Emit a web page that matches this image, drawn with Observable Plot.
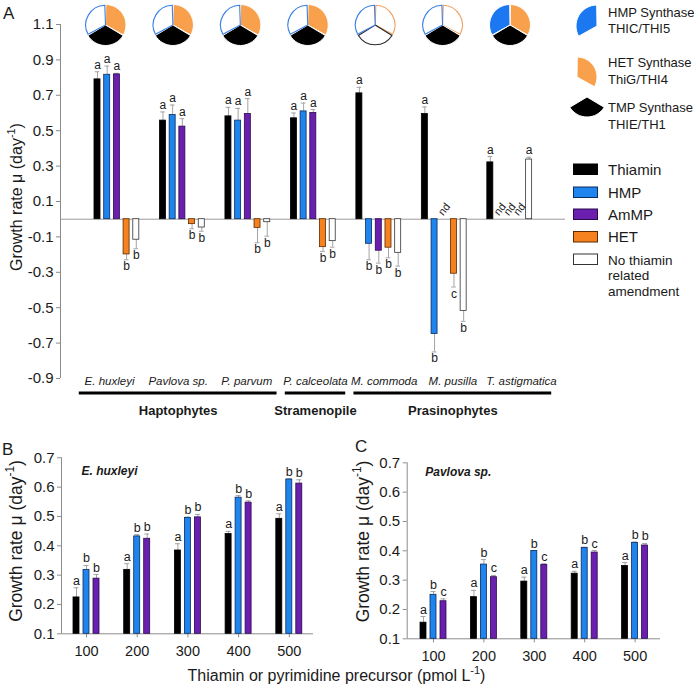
<!DOCTYPE html>
<html><head><meta charset="utf-8">
<script src="https://cdn.jsdelivr.net/npm/d3@7"></script>
<script src="https://cdn.jsdelivr.net/npm/@observablehq/plot@0.6"></script>
<style>
body{margin:0;background:#fff;}
#fig{position:relative;width:700px;height:684px;overflow:hidden;background:#fff;}
</style></head><body><div id="fig"></div>
<script>
// ---------- DATA ----------
const species = ["E. huxleyi","Pavlova sp.","P. parvum","P. calceolata","M. commoda","M. pusilla","T. astigmatica"];
const speciesGroup = [0,0,0,1,2,2,2];
const groupNames = ["Haptophytes","Stramenopile","Prasinophytes"];
const treatments = ["Thiamin","HMP","AmMP","HET","No thiamin related amendment"];
// growth rate (day-1) per species x treatment; null = not determined
const growthA = [
  [0.790, 0.816, 0.818, -0.199, -0.116],
  [0.557, 0.589, 0.523, -0.028, -0.047],
  [0.581, 0.557, 0.594, -0.049, -0.017],
  [0.570, 0.609, 0.600, -0.158, -0.124],
  [0.711, -0.139, -0.178, -0.161, -0.190],
  [0.594, -0.649, null, -0.308, -0.519],
  [0.321, null, null, null, 0.337]
];
const errA = [
  [0.043, 0.049, 0.006, 0.030, 0.051],
  [0.049, 0.056, 0.045, 0.026, 0.021],
  [0.051, 0.069, 0.087, 0.084, 0.079],
  [0.030, 0.047, 0.019, 0.024, 0.034],
  [0.034, 0.090, 0.070, 0.057, 0.075],
  [0.040, 0.101, null, 0.075, 0.058],
  [0.033, null, null, null, 0.013]
];
const lettersA = [
  ["a","a","a","b","b"],
  ["a","a","a","b","b"],
  ["a","a","a","b","b"],
  ["a","a","a","b","b"],
  ["a","b","b","b","b"],
  ["a","b","nd","c","b"],
  ["a","nd","nd","nd","a"]
];
// gene presence (1 = present) for pies
const hmpSynthase = [0,0,0,0,0,0,1];
const hetSynthase = [1,1,1,1,0,0,1];
const tmpSynthase = [1,1,1,1,0,1,1];
const yTicksA = [-0.9,-0.7,-0.5,-0.3,-0.1,0.1,0.3,0.5,0.7,0.9,1.1];

const concentrations = [100,200,300,400,500];
const doseTreatments = ["Thiamin","HMP","AmMP"];
const ehuxThiamin = [0.224, 0.318, 0.384, 0.440, 0.492];
const ehuxThiaminErr = [0.033, 0.021, 0.023, 0.009, 0.017];
const ehuxHMP = [0.318, 0.432, 0.495, 0.564, 0.626];
const ehuxHMPErr = [0.015, 0.006, 0.003, 0.007, 0.002];
const ehuxAmMP = [0.288, 0.424, 0.497, 0.547, 0.612];
const ehuxAmMPErr = [0.014, 0.016, 0.010, 0.006, 0.013];
const ehuxLetters = [["a","b","b"],["a","b","b"],["a","b","b"],["a","b","b"],["a","b","b"]];
const pavThiamin = [0.155, 0.242, 0.295, 0.322, 0.348];
const pavThiaminErr = [0.021, 0.023, 0.015, 0.008, 0.012];
const pavHMP = [0.250, 0.353, 0.399, 0.410, 0.427];
const pavHMPErr = [0.011, 0.017, 0.002, 0.002, 0.003];
const pavAmMP = [0.228, 0.310, 0.352, 0.394, 0.418];
const pavAmMPErr = [0.008, 0.006, 0.004, 0.007, 0.007];
const pavLetters = [["a","b","c"],["a","b","c"],["a","b","c"],["a","b","c"],["a","b","b"]];
const yTicksBC = [0.1,0.2,0.3,0.4,0.5,0.6,0.7];

// ---------- STYLE ----------
const W = 700, H = 684;
const FONT = "'Liberation Sans', Arial, Helvetica, sans-serif";
const fig = document.getElementById("fig");
const baseStyle = {background: "transparent", fontFamily: FONT, overflow: "visible", position: "absolute", left: "0px", top: "0px"};
const barFill = {"Thiamin":"#000000","HMP":"#1e84ee","AmMP":"#6a1fae","HET":"#f5821f","No thiamin related amendment":"#ffffff"};
const barStroke = {"Thiamin":"#000000","HMP":"#0e2b5c","AmMP":"#2a0b4c","HET":"#5c2a00","No thiamin related amendment":"#333333"};
const errColor = "#a3a3a3", axisColor = "#8c8c8c", textColor = "#1a1a1a";
function place(node){ node.style.position = "absolute"; node.style.left = "0px"; node.style.top = "0px"; fig.append(node); }

// ---------- PANEL A ----------
const SLOT_A = 6.75;
const rowsA = [];
species.forEach((s, si) => treatments.forEach((t, ti) => {
  rowsA.push({s, si, t, ti, pos: si * SLOT_A + ti, v: growthA[si][ti], e: errA[si][ti], letter: lettersA[si][ti]});
}));
const measuredA = rowsA.filter(d => d.v !== null);
const ndA = rowsA.filter(d => d.v === null);
const tip = d => d.v + Math.sign(d.v) * d.e;
const xDomA = [-3.814, 48.25];
const yDomA = [-0.9, 1.1];
const hw = 0.31, capA = 0.24;

place(Plot.plot({
  width: W, height: H, marginLeft: 60, marginRight: W - 565, marginTop: 24, marginBottom: H - 378,
  x: {domain: xDomA, axis: null}, y: {domain: yDomA}, color: {type: "identity"},
  style: baseStyle,
  marks: [
    Plot.ruleX([xDomA[0]], {y1: yDomA[0], y2: yDomA[1], stroke: axisColor}),
    Plot.axisY({ticks: yTicksA, tickFormat: d => d.toFixed(1), tickSize: 4, tickPadding: 3, fontSize: 15, stroke: axisColor, fill: textColor, label: null}),
    Plot.ruleY([0], {x1: xDomA[0], x2: xDomA[1], stroke: "#9a9a9a"}),
    Plot.ruleX(measuredA, {x: "pos", y1: "v", y2: tip, stroke: errColor}),
    Plot.ruleY(measuredA, {y: tip, x1: d => d.pos - capA, x2: d => d.pos + capA, stroke: errColor}),
    Plot.rect(measuredA, {x1: d => d.pos - hw, x2: d => d.pos + hw, y1: 0, y2: "v", fill: d => barFill[d.t], stroke: d => barStroke[d.t], strokeWidth: 0.8}),
    Plot.text(measuredA.filter(d => d.v > 0), {x: "pos", y: tip, text: "letter", lineAnchor: "bottom", dy: -3, fontSize: 12, fill: textColor}),
    Plot.text(measuredA.filter(d => d.v < 0), {x: "pos", y: tip, text: "letter", lineAnchor: "top", dy: 2, fontSize: 12, fill: textColor}),
    Plot.text(ndA, {x: "pos", y: 0, text: "letter", rotate: -52, dy: -10, fontSize: 11, fill: textColor})
  ]
}));

// species labels, group lines and group names
const groupsA = groupNames.map((g, gi) => {
  const idx = species.map((s, i) => i).filter(i => speciesGroup[i] === gi);
  return {g, first: idx[0], last: idx[idx.length - 1], mid: d3.mean(idx)};
});
place(Plot.plot({
  width: W, height: H, marginLeft: 109, marginRight: W - 521, marginTop: 24, marginBottom: H - 378,
  x: {domain: [0, species.length - 1], axis: null}, y: {domain: yDomA, axis: null},
  style: baseStyle,
  marks: [
    Plot.text(species, {x: (d, i) => i, y: () => yDomA[0], dy: 3, text: d => d, fontStyle: "italic", fontSize: 11.5, fill: textColor}),
    Plot.ruleY(groupsA, {y: () => yDomA[0], dy: 14.5, x1: d => d.first - 0.44, x2: d => d.last + 0.44, stroke: "#000", strokeWidth: 3}),
    Plot.text(groupsA, {x: "mid", y: () => yDomA[0], dy: 32, text: "g", fontWeight: "bold", fontSize: 13, fill: textColor})
  ]
}));

// pies of thiamin synthesis genes
const sectors = [
  {key: "HET", a0: 0, a1: 2 * Math.PI / 3, fill: "#f8a04c", edge: "#f0a262", has: hetSynthase},
  {key: "TMP", a0: 2 * Math.PI / 3, a1: 4 * Math.PI / 3, fill: "#000000", edge: "#2a2a2a", has: tmpSynthase},
  {key: "HMP", a0: 4 * Math.PI / 3, a1: 2 * Math.PI, fill: "#1b78f0", edge: "#3a7fe6", has: hmpSynthase}
];
const arc = d3.arc();
function drawSector(g, cx, cy, r, sec, filled) {
  if (filled) {
    g.append("path").attr("transform", `translate(${cx},${cy})`)
      .attr("d", arc({innerRadius: 0, outerRadius: r, startAngle: sec.a0, endAngle: sec.a1, padAngle: 0.03}))
      .attr("fill", sec.fill).attr("stroke", "#fff").attr("stroke-width", 1);
  } else {
    g.append("path").attr("transform", `translate(${cx},${cy})`)
      .attr("d", arc({innerRadius: 0, outerRadius: r - 0.7, startAngle: sec.a0, endAngle: sec.a1, padAngle: 0.07}))
      .attr("fill", "#fff").attr("stroke", sec.edge).attr("stroke-width", 1.1);
  }
}
const pieMark = (index, scales, values, dims) => {
  const g = d3.create("svg:g");
  const cy = dims.marginTop + (dims.height - dims.marginTop - dims.marginBottom) / 2;
  species.forEach((s, i) => sectors.forEach(sec => drawSector(g, scales.x(i), cy, 20.5, sec, sec.has[i] === 1)));
  return g.node();
};
place(Plot.plot({
  width: W, height: 50, marginLeft: 105.5, marginRight: W - 510, marginTop: 0, marginBottom: 0,
  x: {domain: [0, species.length - 1], axis: null},
  style: baseStyle,
  marks: [Plot.dot(species.map((s, i) => i), {x: d => d, r: 0}), pieMark]
}));

// ---------- PANELS B & C ----------
function dosePlot({vals, errs, letters, title, ml, mr, mt, mb, xDom, step, titleDx, titleDy}) {
  const rows = [];
  concentrations.forEach((c, gi) => doseTreatments.forEach((t, ti) => {
    rows.push({c, t, pos: gi * step + ti, v: vals[ti][gi], e: errs[ti][gi], letter: letters[gi][ti]});
  }));
  const yDom = [0.1, 0.7];
  const hwB = 0.3, capB = 0.25;
  return Plot.plot({
    width: W, height: H, marginLeft: ml, marginRight: mr, marginTop: mt, marginBottom: mb,
    x: {domain: xDom, axis: null}, y: {domain: yDom}, color: {type: "identity"},
    style: baseStyle,
    marks: [
      Plot.ruleX([xDom[0]], {y1: yDom[0], y2: yDom[1], stroke: axisColor}),
      Plot.ruleY([yDom[0]], {x1: xDom[0], x2: xDom[1], stroke: axisColor}),
      Plot.axisY({ticks: yTicksBC, tickFormat: d => d.toFixed(1), tickSize: 4, tickPadding: 3, fontSize: 15, stroke: axisColor, fill: textColor, label: null}),
      Plot.axisX({ticks: concentrations.map((c, i) => i * step + 1), tickFormat: d => String(concentrations[Math.round((d - 1) / step)]), tickSize: 4, tickPadding: 8, fontSize: 14.5, stroke: axisColor, fill: textColor, label: null}),
      Plot.ruleX(rows, {x: "pos", y1: "v", y2: d => d.v + d.e, stroke: errColor}),
      Plot.ruleY(rows, {y: d => d.v + d.e, x1: d => d.pos - capB, x2: d => d.pos + capB, stroke: errColor}),
      Plot.rect(rows, {x1: d => d.pos - hwB, x2: d => d.pos + hwB, y1: yDom[0], y2: "v", fill: d => barFill[d.t], stroke: d => barStroke[d.t], strokeWidth: 0.8}),
      Plot.text(rows, {x: "pos", y: d => d.v + d.e, text: "letter", lineAnchor: "bottom", dy: -3, fontSize: 12.5, fill: textColor}),
      Plot.text([title], {text: d => d, frameAnchor: "top-left", dx: titleDx, dy: titleDy, fontWeight: "bold", fontStyle: "italic", fontSize: 12, fill: textColor})
    ]
  });
}
place(dosePlot({
  vals: [ehuxThiamin, ehuxHMP, ehuxAmMP], errs: [ehuxThiaminErr, ehuxHMPErr, ehuxAmMPErr], letters: ehuxLetters,
  title: "E. huxleyi", ml: 61, mr: W - 313, mt: 457.3, mb: H - 633.3, xDom: [-1.5, 23.7], step: 5.07, titleDx: 20, titleDy: 9
}));
place(dosePlot({
  vals: [pavThiamin, pavHMP, pavAmMP], errs: [pavThiaminErr, pavHMPErr, pavAmMPErr], letters: pavLetters,
  title: "Pavlova sp.", ml: 406.7, mr: W - 660, mt: 462.3, mb: H - 638.3, xDom: [-1.63, 23.7], step: 5.04, titleDx: 18, titleDy: 5
}));

// ---------- LEGENDS, TITLES ----------
const ov = d3.create("svg").attr("width", W).attr("height", H).attr("font-family", FONT).attr("fill", textColor);
ov.style("position", "absolute").style("left", "0px").style("top", "0px");
// pie legend
drawSector(ov, 597, 26, 21, sectors[2], true);
drawSector(ov, 577, 77, 20, sectors[0], true);
drawSector(ov, 587, 97, 20, sectors[1], true);
const pieLegend = [["HMP Synthase", 16.5], ["THIC/THI5", 32.5], ["HET Synthase", 66.5], ["ThiG/THI4", 83.5], ["TMP Synthase", 111.5], ["THIE/TH1", 128.5]];
pieLegend.forEach(([t, y]) => ov.append("text").attr("x", 608).attr("y", y).attr("font-size", 13).text(t));
// bar legend
const barLegend = [
  {t: "Thiamin", y: 164, lines: ["Thiamin"]},
  {t: "HMP", y: 187, lines: ["HMP"]},
  {t: "AmMP", y: 209, lines: ["AmMP"]},
  {t: "HET", y: 231.5, lines: ["HET"]},
  {t: "No thiamin related amendment", y: 254, lines: ["No thiamin", "related", "amendment"]}
];
barLegend.forEach(d => {
  ov.append("rect").attr("x", 573.5).attr("y", d.y).attr("width", 24).attr("height", 10.5)
    .attr("fill", barFill[d.t]).attr("stroke", barStroke[d.t]).attr("stroke-width", 1);
  const fs = d.lines.length > 1 ? 13.5 : 15;
  d.lines.forEach((l, i) => ov.append("text").attr("x", 608).attr("y", d.y + 10.5 + i * 15.5).attr("font-size", fs).text(l));
});
// axis titles
function ylab(cx, cy, size) {
  const t = ov.append("text").attr("transform", `translate(${cx},${cy}) rotate(-90)`).attr("text-anchor", "middle")
    .attr("y", size * 0.35).attr("font-size", size);
  t.append("tspan").text("Growth rate μ (day");
  t.append("tspan").attr("font-size", size * 0.68).attr("dy", -size * 0.42).text("-1");
  t.append("tspan").attr("dy", size * 0.42).text(")");
}
ylab(16, 197, 16);
ylab(15.5, 541, 17.5);
ylab(362.5, 541.5, 17.5);
{
  const t = ov.append("text").attr("x", 336.5).attr("y", 680.5).attr("text-anchor", "middle").attr("font-size", 16);
  t.append("tspan").text("Thiamin or pyrimidine precursor (pmol L");
  t.append("tspan").attr("font-size", 11).attr("dy", -6.5).text("-1");
  t.append("tspan").attr("dy", 6.5).text(")");
}
[["A", 3, 19], ["B", 2, 455], ["C", 355, 452]].forEach(([t, x, y]) =>
  ov.append("text").attr("x", x).attr("y", y).attr("font-size", 17).text(t));
fig.append(ov.node());
</script></body></html>
